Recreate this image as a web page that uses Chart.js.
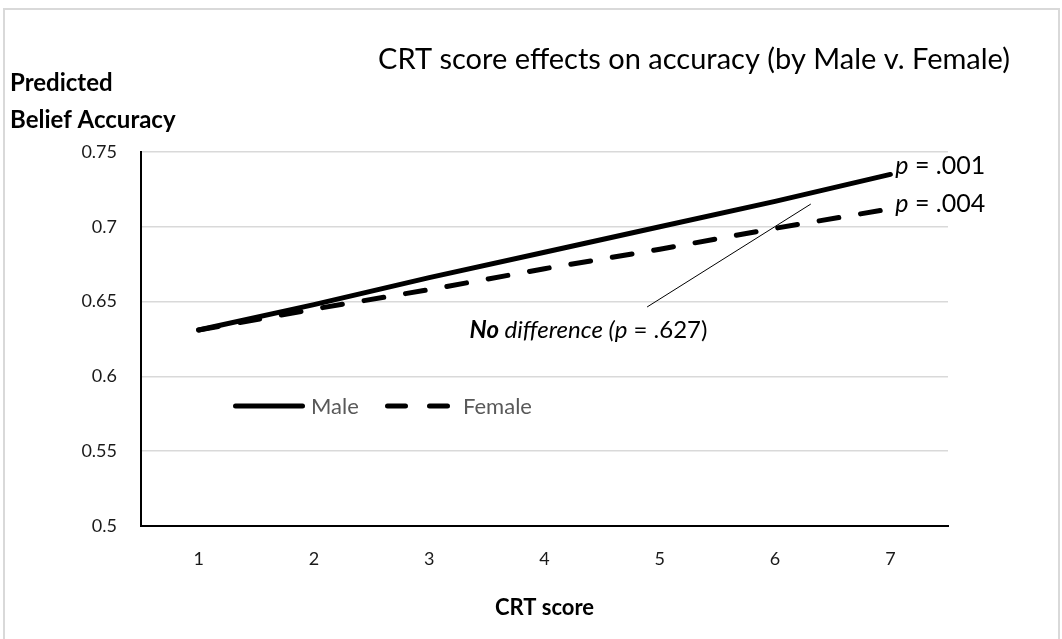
<!DOCTYPE html>
<html>
<head>
<meta charset="utf-8">
<script src="https://cdn.jsdelivr.net/npm/chart.js@4.4.1/dist/chart.umd.min.js"></script>
<style>
  html, body { margin: 0; padding: 0; background: #fff; }
  #box { width: 1062px; height: 639px; }
</style>
</head>
<body>
<div id="box"><canvas id="chart" width="1062" height="639"></canvas></div>
<script>
// data
const crtScores = ['1', '2', '3', '4', '5', '6', '7'];
const maleAccuracy = [0.631, 0.648, 0.666, 0.683, 0.700, 0.717, 0.735];
const femaleAccuracy = [0.631, 0.645, 0.658, 0.672, 0.685, 0.699, 0.712];
const seriesNames = ['Male', 'Female'];
const slopePValues = ['.001', '.004'];
const diffPValue = '.627';

const FONT = 'Lato, "Open Sans", sans-serif';

// draw a row of text pieces with their own fonts
function drawRuns(ctx, x, y, runs) {
  ctx.textAlign = 'left';
  ctx.textBaseline = 'middle';
  runs.forEach(function (r) {
    ctx.font = r.f;
    ctx.fillText(r.t, x, y);
    x += ctx.measureText(r.t).width;
  });
}

const decorations = {
  id: 'decorations',
  beforeDraw(chart) {
    const ctx = chart.ctx;
    ctx.save();
    ctx.fillStyle = '#fff';
    ctx.fillRect(0, 0, chart.width, chart.height);
    ctx.strokeStyle = '#d9d9d9';
    ctx.lineWidth = 2;
    ctx.strokeRect(4, 9, 1055, 640);
    ctx.restore();
  },
  afterDatasetsDraw(chart) {
    const ctx = chart.ctx;
    const xs = chart.scales.x, ys = chart.scales.y;
    const area = chart.chartArea;
    ctx.save();
    ctx.fillStyle = '#000';

    // title
    ctx.font = '29px ' + FONT;
    ctx.textAlign = 'center';
    ctx.textBaseline = 'middle';
    ctx.fillText('CRT score effects on accuracy (by Male v. Female)', 694, 60);

    // axis titles
    ctx.font = 'bold 24px ' + FONT;
    ctx.textAlign = 'left';
    ctx.fillText('Predicted', 10, 83);
    ctx.fillText('Belief Accuracy', 10, 120);
    ctx.font = 'bold 22px ' + FONT;
    ctx.textAlign = 'center';
    ctx.fillText('CRT score', (area.left + area.right) / 2, 608);

    // p labels at the line ends
    const last = crtScores.length - 1;
    const xEnd = xs.getPixelForValue(last) + 5;
    const ends = [maleAccuracy[last], femaleAccuracy[last]];
    const lift = [9, 5];
    ends.forEach(function (v, i) {
      drawRuns(ctx, xEnd, ys.getPixelForValue(v) - lift[i], [
        { t: 'p', f: 'italic 25px ' + FONT },
        { t: ' = ' + slopePValues[i], f: '25px ' + FONT }
      ]);
    });

    // "no difference" note with leader line
    ctx.strokeStyle = '#000';
    ctx.lineWidth = 1;
    ctx.beginPath();
    ctx.moveTo(xs.getPixelForValue(3.89), ys.getPixelForValue(0.6464));
    ctx.lineTo(xs.getPixelForValue(5.31), ys.getPixelForValue(0.7152));
    ctx.stroke();
    drawRuns(ctx, xs.getPixelForValue(2.35), ys.getPixelForValue(0.631), [
      { t: 'No', f: 'italic bold 24px ' + FONT },
      { t: ' difference (', f: 'italic 24px ' + FONT },
      { t: 'p', f: 'italic 24px ' + FONT },
      { t: ' = ' + diffPValue + ')', f: '24px ' + FONT }
    ]);

    // legend inside the plot
    const ly = 406;
    const items = [
      { x: 235.5, len: 67, dash: [], tx: 311 },
      { x: 387.5, len: 60, dash: [18, 24], tx: 463 }
    ];
    ctx.lineWidth = 5;
    ctx.lineCap = 'round';
    items.forEach(function (it, i) {
      ctx.setLineDash(it.dash);
      ctx.beginPath();
      ctx.moveTo(it.x, ly);
      ctx.lineTo(it.x + it.len, ly);
      ctx.stroke();
      ctx.setLineDash([]);
      ctx.fillStyle = '#595959';
      ctx.font = '22px ' + FONT;
      ctx.textAlign = 'left';
      ctx.textBaseline = 'middle';
      ctx.fillText(seriesNames[i], it.tx, ly + 1);
    });
    ctx.restore();
  }
};

new Chart(document.getElementById('chart'), {
  type: 'line',
  data: {
    labels: crtScores,
    datasets: [
      {
        label: seriesNames[0], data: maleAccuracy,
        borderColor: '#000', borderWidth: 5, borderCapStyle: 'round',
        pointRadius: 0, tension: 0, fill: false
      },
      {
        label: seriesNames[1], data: femaleAccuracy,
        borderColor: '#000', borderWidth: 5, borderCapStyle: 'round',
        borderDash: [20, 22], pointRadius: 0, tension: 0, fill: false
      }
    ]
  },
  options: {
    responsive: false,
    animation: false,
    layout: { padding: { left: 0, top: 152, right: 114, bottom: 0 } },
    plugins: { legend: { display: false }, tooltip: { enabled: false } },
    scales: {
      x: {
        offset: true,
        grid: { display: false, drawTicks: false },
        border: { display: true, color: '#000', width: 2 },
        ticks: { color: '#1a1a1a', font: { family: FONT, size: 18 }, padding: 22 },
        afterFit: function (s) { s.height = 113; }
      },
      y: {
        min: 0.5, max: 0.75,
        grid: { color: '#d9d9d9', lineWidth: 1.5, drawTicks: false },
        border: { display: true, color: '#000', width: 2 },
        ticks: {
          stepSize: 0.05, color: '#1a1a1a', padding: 24,
          font: { family: FONT, size: 18 },
          callback: function (v) { return String(+v.toFixed(2)); }
        },
        afterFit: function (s) { s.width = 141; }
      }
    }
  },
  plugins: [decorations]
});
</script>
</body>
</html>
